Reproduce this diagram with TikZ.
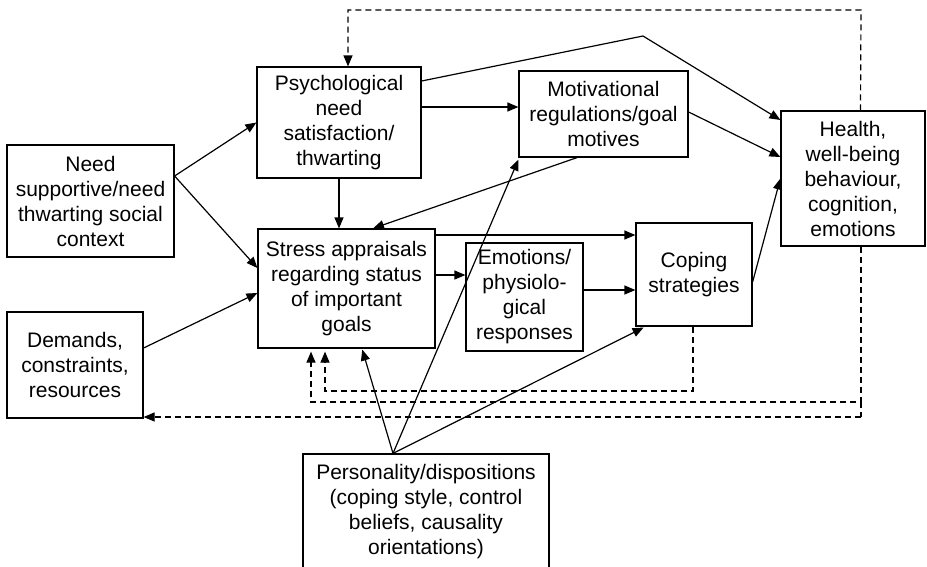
\documentclass[tikz,border=0pt]{standalone}
\usepackage{fontspec}
\setmainfont{Liberation Sans}
\usetikzlibrary{arrows.meta}
\begin{document}
\begin{tikzpicture}[x=1pt,y=-1pt,
  box/.style={draw,line width=1.2pt,inner sep=0pt,align=center,
    font=\fontsize{21}{25}\selectfont},
  conn/.style={line width=1.2pt,-{Triangle[length=11pt,width=9pt]}},
  dconn/.style={conn,dash pattern=on 6pt off 4pt},
  dline/.style={line width=1.2pt,dash pattern=on 6pt off 4pt}]
\useasboundingbox (0,0) rectangle (927,566);
\clip (0,0) rectangle (927,566);
% boxes
\node[box,minimum width=167pt,minimum height=112pt] (need) at (90.5,201)
  {Need\\supportive/need\\thwarting social\\context};
\node[box,minimum width=136pt,minimum height=106pt] (dem) at (75,365)
  {Demands,\\constraints,\\resources};
\node[box,minimum width=164pt,minimum height=111pt] (psy) at (339,122.5)
  {Psychological\\need\\satisfaction/\\thwarting};
\node[box,minimum width=177pt,minimum height=119pt] (str) at (346.5,288.5)
  {Stress appraisals\\regarding status\\of important\\goals};
\node[box,minimum width=169pt,minimum height=86pt] (mot) at (603.5,114)
  {Motivational\\regulations/goal\\motives};
\node[box,minimum width=117pt,minimum height=108pt] (emo) at (524.5,297)
  {Emotions/\\physiolo-\\gical\\responses};
\node[box,minimum width=116pt,minimum height=103pt] (cop) at (694,274.5)
  {Coping\\strategies};
\node[box,minimum width=144pt,minimum height=135pt] (hea) at (853,178.5)
  {Health,\\well-being\\behaviour,\\cognition,\\emotions};
\node[box,minimum width=246pt,minimum height=116pt] (per) at (426,512)
  {Personality/dispositions\\(coping style, control\\beliefs, causality\\orientations)};
% solid connectors
\coordinate (needout) at ([yshift=25pt]need.east);
\draw[conn] (needout) -- (psy.west);
\draw[conn] (needout) -- ([yshift=20.5pt]str.west);
\draw[conn] ([yshift=17pt]dem.east) -- ([yshift=-4.5pt]str.west);
\draw[conn] (psy.south) -- (psy.south |- str.north);
\coordinate (pm) at ([yshift=15.5pt]psy.east);
\draw[conn] (pm) -- (pm -| mot.west);
\coordinate (kink) at (643,36);
\draw[conn] ([yshift=41.5pt]psy.east) -- (kink) -- ([yshift=58.5pt]hea.west);
\draw[conn] ([yshift=2pt]mot.east) -- ([yshift=21.5pt]hea.west);
\draw[conn] ([xshift=-26.5pt]mot.south) -- ([xshift=26.5pt]str.north);
\coordinate (sc) at ([yshift=53.5pt]str.east);
\draw[conn] (sc) -- (sc -| cop.west);
\coordinate (se) at ([yshift=13.5pt]str.east);
\draw[conn] (se) -- (se -| emo.west);
\coordinate (ec) at ([yshift=7pt]emo.east);
\draw[conn] (ec) -- (ec -| cop.west);
\draw[conn] ([yshift=-7.5pt]cop.east) -- (hea.west);
\coordinate (apex) at ([xshift=-33pt]per.north);
\draw[conn] (apex) -- ([yshift=-2pt]mot.south west);
\draw[conn,shorten >=1pt] (apex) -- ([xshift=15.5pt]str.south);
\draw[conn,shorten >=2pt] (apex) -- ([xshift=10pt]cop.south west);
% dashed feedback connectors
\coordinate (hx) at ([xshift=7.5pt]hea.north);
\coordinate (tr) at (861,10);
\coordinate (tl) at (348,10);
\draw[dconn] (hx) -- (tr) -- (tl) -- (tl |- psy.north);
\coordinate (cb) at (693,391);
\coordinate (cl) at (325,391);
\draw[dconn,shorten >=3pt] (cop.south -| cb) -- (cb) -- (cl) -- (cl |- str.south);
\coordinate (hb) at (861,402);
\coordinate (hl) at (311,402);
\draw[dconn,shorten >=3pt] (hea.south -| hb) -- (hb) -- (hl) -- (hl |- str.south);
\coordinate (hd) at (861,417);
\draw[dline] (hb) -- (hd);
\draw[dconn] (hd) -- (hd -| dem.east);
\end{tikzpicture}
\end{document}
